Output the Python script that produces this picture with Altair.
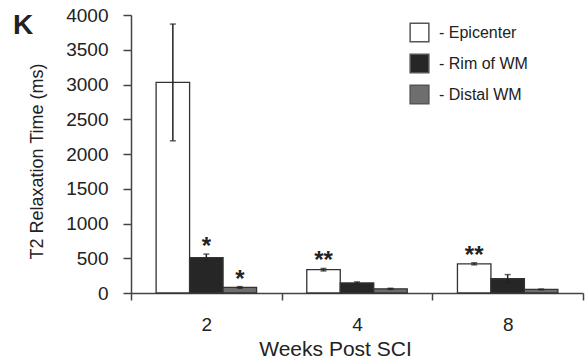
import altair as alt
import pandas as pd

weeks = ["2", "4", "8"]
regions = ["Epicenter", "Rim of WM", "Distal WM"]
epicenter = [3030, 335, 420]
epicenter_err = [840, 18, 15]
rim = [510, 145, 205]
rim_err = [50, 15, 60]
distal = [80, 60, 52]
distal_err = [12, 8, 5]
epicenter_sig = ["", "**", "**"]
rim_sig = ["*", "", ""]
distal_sig = ["*", "", ""]
region_colors = ["#ffffff", "#262626", "#6e6e6e"]
y_ticks = [0, 500, 1000, 1500, 2000, 2500, 3000, 3500, 4000]

rows = []
for vals, errs, sigs, reg in [
    (epicenter, epicenter_err, epicenter_sig, regions[0]),
    (rim, rim_err, rim_sig, regions[1]),
    (distal, distal_err, distal_sig, regions[2]),
]:
    for w, v, e, s in zip(weeks, vals, errs, sigs):
        rows.append({"week": w, "region": reg, "value": v,
                     "lo": v - e, "hi": v + e, "sig": s})
df = pd.DataFrame(rows)

FONT = "Liberation Sans"

x = alt.X("week:N", sort=weeks, title="Weeks Post SCI",
          scale=alt.Scale(paddingInner=0, paddingOuter=0),
          axis=alt.Axis(tickBand="extent", labelAngle=0, tickSize=7,
                        labelPadding=15, labelFontSize=19, titleFontSize=21,
                        titlePadding=4, titleFontWeight="normal", titleX=204))
xo = alt.XOffset("region:N", sort=regions,
                 scale=alt.Scale(paddingInner=0, paddingOuter=0.75))
yscale = alt.Scale(domain=[0, 4000], nice=False)
yaxis = alt.Axis(values=y_ticks, format="d", labelOverlap=False,
                 tickSize=8, labelPadding=15, labelFontSize=19,
                 titleFontSize=18, titlePadding=19, titleY=146,
                 titleFontWeight="normal", grid=False)
ytitle = "T2 Relaxation Time (ms)"

bars = alt.Chart(df).mark_bar(stroke="#333333", strokeWidth=1.3).encode(
    x=x, xOffset=xo,
    y=alt.Y("value:Q", scale=yscale, title=ytitle, axis=yaxis),
    color=alt.Color("region:N", sort=regions,
                    scale=alt.Scale(domain=regions, range=region_colors),
                    legend=alt.Legend(title=None, orient="none", legendX=278,
                                      legendY=7, symbolType="square",
                                      symbolSize=350, symbolStrokeColor="#555555",
                                      symbolStrokeWidth=1.5, labelFontSize=16,
                                      labelOffset=9, rowPadding=6,
                                      labelExpr="'- ' + datum.label")),
)

rules = alt.Chart(df).mark_rule(color="#222222", strokeWidth=1.5).encode(
    x=x, xOffset=xo, y=alt.Y("lo:Q", scale=yscale, title=ytitle, axis=yaxis),
    y2="hi:Q")

caps_hi = alt.Chart(df).mark_tick(color="#222222", thickness=1.5, size=6).encode(
    x=x, xOffset=xo, y=alt.Y("hi:Q", scale=yscale, title=ytitle, axis=yaxis))
caps_lo = alt.Chart(df).mark_tick(color="#222222", thickness=1.5, size=6).encode(
    x=x, xOffset=xo, y=alt.Y("lo:Q", scale=yscale, title=ytitle, axis=yaxis))

stars = alt.Chart(df).mark_text(fontSize=24, fontWeight="bold", color="#222222",
                                baseline="middle", dy=-7).encode(
    x=x, xOffset=xo, y=alt.Y("hi:Q", scale=yscale, title=ytitle, axis=yaxis),
    text="sig:N")

chart = alt.layer(bars, rules, caps_hi, caps_lo, stars).properties(
    width=452, height=278,
    autosize=alt.AutoSizeParams(type="none"),
    padding={"left": 131, "top": 15, "right": 4, "bottom": 69},
    title=alt.Title("K", anchor="start", frame="group", dx=-118, dy=35,
                    fontSize=28, fontWeight="bold", font=FONT,
                    color="#222222", offset=0),
).configure(font=FONT).configure_axis(
    domainColor="#444444", tickColor="#444444", labelColor="#222222",
    titleColor="#222222", domainWidth=1.5, tickWidth=1.5, labelFont=FONT,
    titleFont=FONT
).configure_legend(labelFont=FONT, labelColor="#222222").configure_view(stroke=None)

chart.save("out.html", embed_options={"renderer": "svg", "actions": False})
